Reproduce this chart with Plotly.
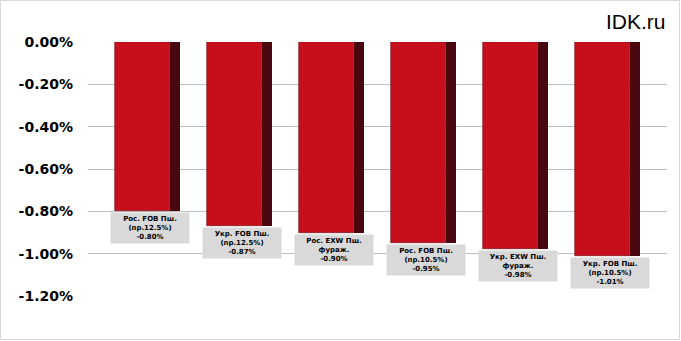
import plotly.graph_objects as go

categories = ["Рос. FOB Пш.<br>(пр.12.5%)", "Укр. FOB Пш.<br>(пр.12.5%)", "Рос. EXW Пш.<br>фураж.",
              "Рос. FOB Пш.<br>(пр.10.5%)", "Укр. EXW Пш.<br>фураж.", "Укр. FOB Пш.<br>(пр.10.5%)"]
values = [-0.0080, -0.0087, -0.0090, -0.0095, -0.0098, -0.0101]
value_labels = ["-0.80%", "-0.87%", "-0.90%", "-0.95%", "-0.98%", "-1.01%"]
tick_vals = [0, -0.002, -0.004, -0.006, -0.008, -0.010, -0.012]
tick_text = ["0.00%", "-0.20%", "-0.40%", "-0.60%", "-0.80%", "-1.00%", "-1.20%"]

W, H = 681, 341
L, R, T, B = 88, 14, 42, 45
pw, ph = W - L - R, H - T - B

x = list(range(len(categories)))
fig = go.Figure()
fig.add_trace(go.Bar(x=x, y=values, width=0.598, offset=-0.348,
                     marker=dict(color="#C60F1B", line=dict(color="#6a0a10", width=0.6)),
                     hoverinfo="skip"))
fig.add_trace(go.Bar(x=x, y=values, width=0.109, offset=0.25,
                     marker=dict(color="#4B0710", line=dict(width=0)),
                     hoverinfo="skip"))

for i, (c, v, lab) in enumerate(zip(categories, values, value_labels)):
    fig.add_annotation(x=i, y=v, xref="x", yref="y", text=f"<b>{c}<br>{lab}</b>",
                       showarrow=False, yanchor="top", xanchor="center", xshift=3, yshift=-1,
                       width=76, height=28, bgcolor="#D9D9D9", borderpad=1,
                       font=dict(family="DejaVu Sans", size=7, color="#000000"))

fig.add_annotation(x=(668 - L) / pw, y=(H - B - 22) / ph, xref="paper", yref="paper",
                   text="IDK.ru", showarrow=False, xanchor="right", yanchor="middle",
                   font=dict(family="Arial", size=21, color="#000000"))

# outer border
fig.add_shape(type="rect", xref="paper", yref="paper",
              x0=(0.5 - L) / pw, x1=(679.5 - L) / pw,
              y0=(H - B - 339.5) / ph, y1=(H - B - 0.5) / ph,
              line=dict(color="#D9D9D9", width=1), fillcolor="rgba(0,0,0,0)", layer="below")

fig.update_layout(
    width=W, height=H, margin=dict(l=L, r=R, t=T, b=B),
    plot_bgcolor="white", paper_bgcolor="white",
    barmode="overlay", showlegend=False, bargap=0,
    xaxis=dict(range=[-(147 - L) / 92, 5 + (667 - 607) / 92], showticklabels=False,
               showgrid=False, zeroline=False, ticks=""),
    yaxis=dict(range=[-0.012, 0], tickvals=tick_vals, ticktext=tick_text,
               showgrid=True, gridcolor="#BFBFBF", gridwidth=1.3, zeroline=False,
               tickfont=dict(family="DejaVu Sans", size=14, color="#000000", weight="bold"),
               ticklabelstandoff=14, ticks=""),
)
fig.write_html("out.html")
